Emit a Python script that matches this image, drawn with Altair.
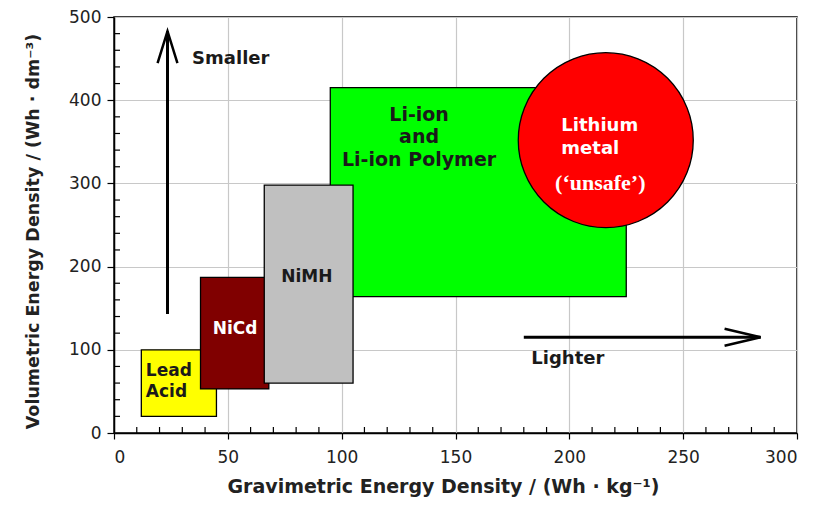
import altair as alt
import pandas as pd

# ---- data ----
cells = ["Li-ion and Li-ion Polymer", "Lead Acid", "NiCd", "NiMH"]
grav_lo = [95, 12, 38, 66]
grav_hi = [225, 45, 68, 105]
vol_lo = [164, 20, 53, 60]
vol_hi = [415, 100, 187, 298]
cell_colors = ["#00ff00", "#ffff00", "#800000", "#c0c0c0"]

metal_name = ["Lithium metal"]
metal_grav = [216]
metal_vol = [352]

x_ticks = [0, 50, 100, 150, 200, 250, 300]
y_ticks = [0, 100, 200, 300, 400, 500]
x_minor = [v for v in range(0, 301, 10) if v % 50]
y_minor = [v for v in range(0, 501, 20) if v % 100]

# arrows: "Smaller" (vertical) and "Lighter" (horizontal)
arrow_name = ["Smaller", "Lighter"]
arrow_x1 = [23.5, 180]
arrow_x2 = [23.5, 284]
arrow_y1 = [143, 115]
arrow_y2 = [483, 115]

# labels (y of the first line)
dark_text = ["Smaller", "Lighter", "NiMH"]
dark_x = [34.3, 183.3, 84.7]
dark_y = [449, 88.4, 188]
dark_align = ["left", "left", "center"]

liion_text = ["Li-ion\nand\nLi-ion Polymer"]
liion_x = [134]
liion_y = [382.6]

lead_text = ["Lead\nAcid"]
lead_x = [14]
lead_y = [74.8]

nicd_text = ["NiCd"]
nicd_x = [53.2]
nicd_y = [125.4]

metal_text = ["Lithium\nmetal"]
metal_tx = [196.5]
metal_ty = [369.3]

unsafe_text = ["(\u2018unsafe\u2019)"]
unsafe_x = [213.6]
unsafe_y = [301]

SANS = "DejaVu Sans"

xs = alt.Scale(domain=[0, 300], nice=False, zero=False)
ys = alt.Scale(domain=[0, 500], nice=False, zero=False)
x_axis = alt.Axis(values=x_ticks, grid=True, tickSize=6, labelPadding=10,
                  title="Gravimetric Energy Density / (Wh \u00b7 kg\u207b\u00b9)",
                  titleFontSize=19, titlePadding=12, titleX=329)
y_axis = alt.Axis(values=y_ticks, grid=True, tickSize=7, labelPadding=6,
                  title="Volumetric Energy Density / (Wh \u00b7 dm\u207b\u00b3)",
                  titleFontSize=17.5, titlePadding=26, titleY=214)


def X(field):
    return alt.X(field, scale=xs, axis=x_axis)


def Y(field):
    return alt.Y(field, scale=ys, axis=y_axis)


cells_df = pd.DataFrame({"cell": cells, "x": grav_lo, "x2": grav_hi, "y": vol_lo, "y2": vol_hi})

rects = alt.Chart(cells_df).mark_rect(stroke="black", strokeWidth=1.3).encode(
    x=X("x:Q"), x2="x2:Q", y=Y("y:Q"), y2="y2:Q",
    color=alt.Color("cell:N", scale=alt.Scale(domain=cells, range=cell_colors), legend=None),
)

metal = alt.Chart(pd.DataFrame({"name": metal_name, "x": metal_grav, "y": metal_vol})).mark_circle(
    size=30625, color="#ff0000", opacity=1, stroke="black", strokeWidth=1.3
).encode(x=X("x:Q"), y=Y("y:Q"))

arrows_df = pd.DataFrame({"name": arrow_name, "x": arrow_x1, "x2": arrow_x2, "y": arrow_y1, "y2": arrow_y2})
arrow_lines = alt.Chart(arrows_df).mark_rule(color="black", strokeWidth=3).encode(
    x=X("x:Q"), x2="x2:Q", y=Y("y:Q"), y2="y2:Q")

head_up = alt.Chart(arrows_df.iloc[[0]]).mark_point(
    shape="M -0.31 1 L 0 0 L 0.31 1", size=4096, filled=False, color="black", strokeWidth=2.5, opacity=1
).encode(x=X("x2:Q"), y=Y("y2:Q"))

head_right = alt.Chart(arrows_df.iloc[[1]]).mark_point(
    shape="M -1 -0.236 L 0 0 L -1 0.236", size=5184, filled=False, color="black", strokeWidth=2.5, opacity=1
).encode(x=X("x2:Q"), y=Y("y2:Q"))

minor_x_ticks = alt.Chart(pd.DataFrame({"v": x_minor, "z": [0] * len(x_minor)})).mark_tick(
    orient="vertical", size=6, thickness=1.2, color="black", yOffset=-3, opacity=1
).encode(x=X("v:Q"), y=Y("z:Q"))

minor_y_ticks = alt.Chart(pd.DataFrame({"v": y_minor, "z": [0] * len(y_minor)})).mark_tick(
    orient="horizontal", size=6, thickness=1.2, color="black", xOffset=3, opacity=1
).encode(y=Y("v:Q"), x=X("z:Q"))


def text_layer(texts, xv, yv, align, size, color, font=SANS, line_height=22):
    df = pd.DataFrame({"t": texts, "x": xv, "y": yv})
    return alt.Chart(df).mark_text(
        align=align, baseline="middle", font=font, fontSize=size, fontWeight="bold",
        color=color, lineBreak="\n", lineHeight=line_height
    ).encode(x=X("x:Q"), y=Y("y:Q"), text="t:N")


left_i = [i for i, a in enumerate(dark_align) if a == "left"]
center_i = [i for i, a in enumerate(dark_align) if a == "center"]

labels = [
    text_layer([dark_text[i] for i in left_i], [dark_x[i] for i in left_i],
               [dark_y[i] for i in left_i], "left", 18, "#1a1a1a"),
    text_layer([dark_text[i] for i in center_i], [dark_x[i] for i in center_i],
               [dark_y[i] for i in center_i], "center", 17, "#1a1a1a"),
    text_layer(liion_text, liion_x, liion_y, "center", 19, "#1a1a1a", line_height=22.5),
    text_layer(lead_text, lead_x, lead_y, "left", 17, "#1a1a1a", line_height=21),
    text_layer(nicd_text, nicd_x, nicd_y, "center", 17, "white"),
    text_layer(metal_text, metal_tx, metal_ty, "left", 18, "white", line_height=23),
    text_layer(unsafe_text, unsafe_x, unsafe_y, "center", 22, "white", font="Liberation Serif"),
]

chart = alt.layer(
    rects, metal, minor_x_ticks, minor_y_ticks, arrow_lines, head_up, head_right, *labels
).properties(
    width=683, height=416,
    autosize=alt.AutoSizeParams(type="none"),
    padding={"left": 106, "top": 9, "right": 12, "bottom": 65},
    background="white",
).configure_view(
    stroke="black", strokeWidth=1.5
).configure_axis(
    domainColor="black", domainWidth=1.5, tickColor="black", tickWidth=1.2,
    gridColor="#c8c8c8", gridWidth=1.2,
    labelFont=SANS, labelFontSize=17, labelColor="#222222",
    titleFont=SANS, titleFontWeight="bold", titleColor="#222222",
)

chart.save("out.html", embed_options={"renderer": "svg", "actions": False})
